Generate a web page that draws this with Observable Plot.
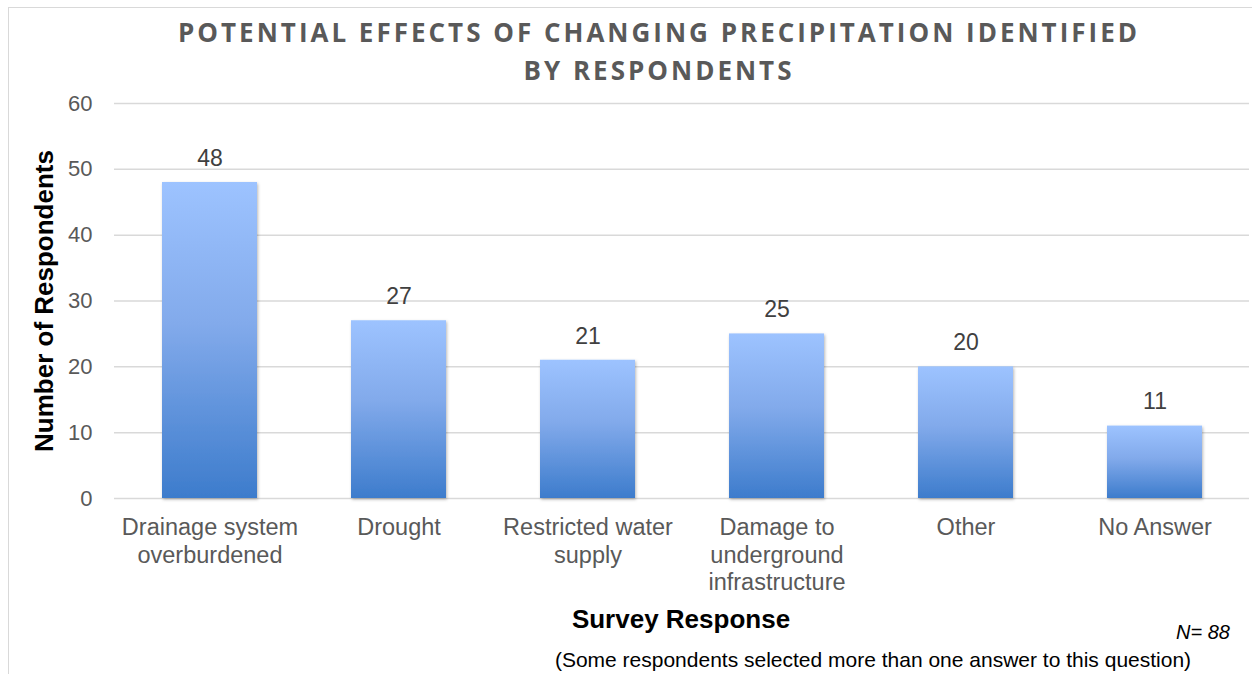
<!DOCTYPE html>
<html>
<head>
<meta charset="utf-8">
<script src="https://cdn.jsdelivr.net/npm/d3@7"></script>
<script src="https://cdn.jsdelivr.net/npm/@observablehq/plot@0.6"></script>
<style>
  html, body { margin: 0; padding: 0; background: #fff; overflow: hidden; }
  #wrap { position: relative; width: 1252px; height: 674px; font-family: "Liberation Sans", Arial, sans-serif; }
  #frame { position: absolute; left: 8px; top: 7px; width: 1300px; height: 700px; border: 1.5px solid #d9d9d9; box-sizing: border-box; }
  #chart { position: absolute; left: 0; top: 0; }
  .title { position: absolute; left: 0; width: 1318px; text-align: center; font-family: "Open Sans", sans-serif; font-weight: 700; font-size: 26px; letter-spacing: 3px; color: #595959; line-height: 1; }
  #ylab { position: absolute; left: 44px; top: 301px; transform: translate(-50%, -50%) rotate(-90deg); white-space: nowrap; font-weight: 700; font-size: 26px; color: #000; }
  #xlab { position: absolute; left: 681px; top: 619px; transform: translate(-50%, -50%); white-space: nowrap; font-weight: 700; font-size: 26px; color: #000; }
  #nlab { position: absolute; right: 22px; top: 632px; transform: translateY(-50%); font-style: italic; font-size: 20px; color: #000; }
  #note { position: absolute; left: 873px; top: 660px; transform: translate(-50%, -50%); white-space: nowrap; font-size: 21px; color: #000; }
</style>
</head>
<body>
<div id="wrap">
  <div id="frame"></div>
  <div id="chart"></div>
  <div class="title" style="top:19px">POTENTIAL EFFECTS OF CHANGING PRECIPITATION IDENTIFIED</div>
  <div class="title" style="top:57px">BY RESPONDENTS</div>
  <div id="ylab">Number of Respondents</div>
  <div id="xlab">Survey Response</div>
  <div id="nlab">N= 88</div>
  <div id="note">(Some respondents selected more than one answer to this question)</div>
</div>
<script>
const categories = ["Drainage system overburdened", "Drought", "Restricted water supply", "Damage to underground infrastructure", "Other", "No Answer"];
const tickLabels = ["Drainage system\noverburdened", "Drought", "Restricted water\nsupply", "Damage to\nunderground\ninfrastructure", "Other", "No Answer"];
const values = [48, 27, 21, 25, 20, 11];
const yTicks = [0, 10, 20, 30, 40, 50, 60];

const data = categories.map((c, i) => ({category: c, value: values[i]}));
const labelOf = new Map(categories.map((c, i) => [c, tickLabels[i]]));

const defs = () => {
  const svg = d3.create("svg:g");
  const d = svg.append("defs");
  const g = d.append("linearGradient").attr("id", "barGrad").attr("x1", 0).attr("y1", 0).attr("x2", 0).attr("y2", 1);
  g.append("stop").attr("offset", "0%").attr("stop-color", "#9dc3ff");
  g.append("stop").attr("offset", "45%").attr("stop-color", "#82aaeb");
  g.append("stop").attr("offset", "100%").attr("stop-color", "#3d7ccc");
  const f = d.append("filter").attr("id", "shadow").attr("x", "-10%").attr("y", "-10%").attr("width", "130%").attr("height", "130%");
  f.append("feDropShadow").attr("dx", 1).attr("dy", 1.5).attr("stdDeviation", 1.6).attr("flood-color", "#000").attr("flood-opacity", 0.28);
  return svg.node();
};

const chart = Plot.plot({
  width: 1252,
  height: 674,
  marginLeft: 114,
  marginRight: 3,
  marginTop: 103,
  marginBottom: 176,
  style: {fontFamily: "'Liberation Sans', Arial, sans-serif", background: "transparent", overflow: "visible"},
  x: {domain: categories, paddingInner: 0.5, paddingOuter: 0.25, label: null},
  y: {domain: [0, 60], label: null},
  marks: [
    defs,
    Plot.gridY(yTicks, {stroke: "#d9d9d9", strokeOpacity: 1, strokeWidth: 1.5}),
    Plot.axisY(yTicks, {tickSize: 0, tickPadding: 22, fontSize: 22, fill: "#595959", label: null}),
    Plot.axisX({tickSize: 0, tickPadding: 17, fontSize: 23.5, fill: "#595959", lineHeight: 1.17, tickFormat: d => labelOf.get(d), label: null}),
    Plot.barY(data, {x: "category", y: "value", fill: "url(#barGrad)"}),
    Plot.text(data, {x: "category", y: "value", text: d => String(d.value), dy: -24, fontSize: 23, fill: "#404040"})
  ]
});
chart.querySelectorAll("rect").forEach(r => { if (r.getAttribute("fill") === "url(#barGrad)" || r.parentNode.getAttribute("fill") === "url(#barGrad)") r.setAttribute("filter", "url(#shadow)"); });
document.getElementById("chart").appendChild(chart);
</script>
</body>
</html>
